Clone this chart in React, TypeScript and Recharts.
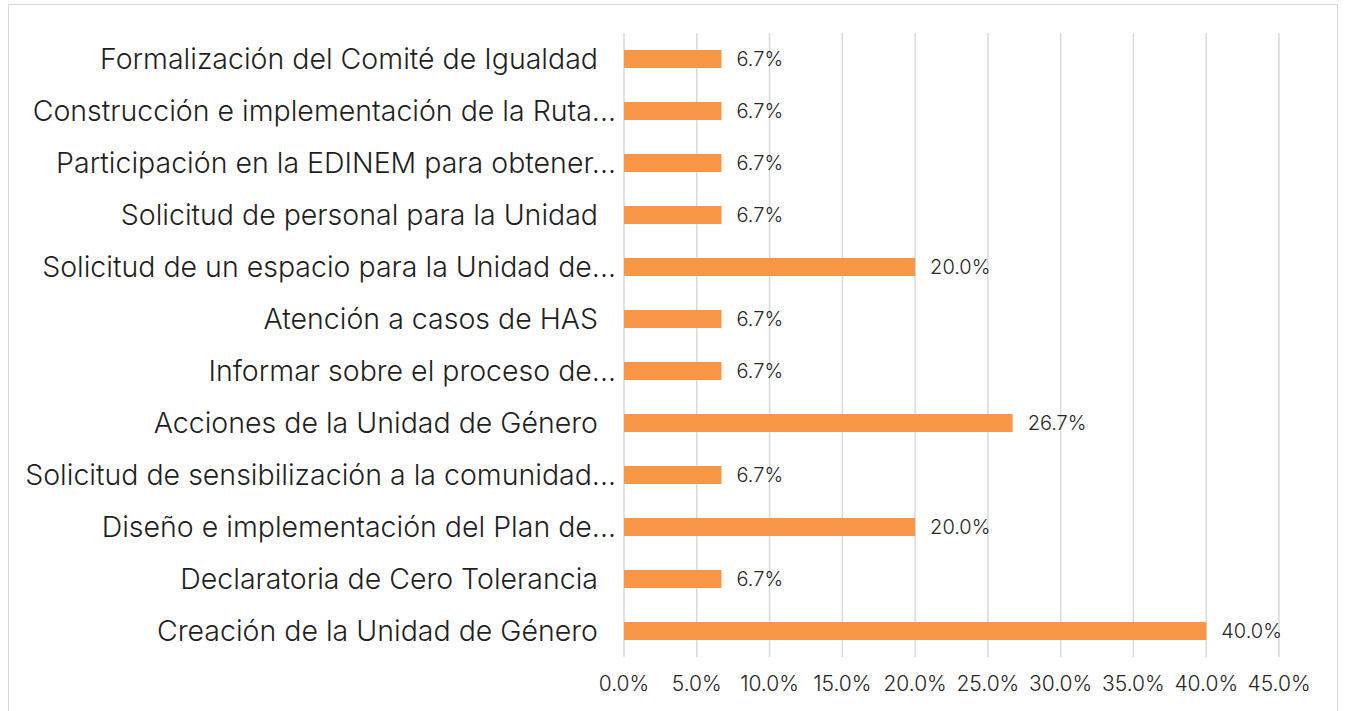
import { BarChart, Bar, XAxis, YAxis, CartesianGrid, LabelList } from "recharts"

const categories = [
  "Formalización del Comité de Igualdad",
  "Construcción e implementación de la Ruta...",
  "Participación en la EDINEM para obtener...",
  "Solicitud de personal para la Unidad",
  "Solicitud de un espacio para la Unidad de...",
  "Atención a casos de HAS",
  "Informar sobre el proceso de...",
  "Acciones de la Unidad de Género",
  "Solicitud de sensibilización a la comunidad...",
  "Diseño e implementación del Plan de...",
  "Declaratoria de Cero Tolerancia",
  "Creación de la Unidad de Género",
]

const percentages = [6.7, 6.7, 6.7, 6.7, 20.0, 6.7, 6.7, 26.7, 6.7, 20.0, 6.7, 40.0]

const xTicks = [0, 5, 10, 15, 20, 25, 30, 35, 40, 45]

const data = categories.map((name, i) => ({ name, value: percentages[i] }))

const FONT = "Inter, 'Open Sans', sans-serif"

function CategoryTick({ x, y, payload }: { x?: number; y?: number; payload?: { value: string } }) {
  const label = payload?.value ?? ""
  // Excel leaves a bit more room before the axis for labels it did not truncate
  const shift = label.endsWith("...") ? 0 : -18
  return (
    <text
      x={(x ?? 0) + shift}
      y={y}
      dy="0.35em"
      textAnchor="end"
      fontSize={28.5}
      fontFamily={FONT}
      fontWeight={300}
      fill="#1f1f1f"
    >
      {label}
    </text>
  )
}

export default function App() {
  return (
    <div style={{ position: "absolute", left: 0, top: 0, width: 1347, height: 711, background: "#fff" }}>
      <div
        style={{
          position: "absolute",
          left: 8,
          top: 4,
          width: 1330,
          height: 720,
          border: "1.5px solid #d9d9d9",
          boxSizing: "border-box",
        }}
      />
      <div style={{ position: "absolute", left: 0, top: 0 }}>
        <BarChart
          width={1347}
          height={711}
          data={data}
          layout="vertical"
          margin={{ top: 33, right: 68, bottom: 0, left: 0 }}
          barCategoryGap={17}
        >
          <CartesianGrid horizontal={false} stroke="#d9d9d9" strokeWidth={1.5} />
          <XAxis
            type="number"
            domain={[0, 45]}
            ticks={xTicks}
            interval={0}
            height={54}
            axisLine={false}
            tickLine={false}
            tickMargin={13}
            tickFormatter={(v: number) => `${v.toFixed(1)}%`}
            tick={{ fontSize: 21, fontFamily: FONT, fontWeight: 300, fill: "#262626" }}
          />
          <YAxis
            type="category"
            dataKey="name"
            width={624}
            axisLine={false}
            tickLine={false}
            tickSize={0}
            tickMargin={8}
            interval={0}
            tick={<CategoryTick />}
          />
          <Bar dataKey="value" fill="#F79646" barSize={18} isAnimationActive={false}>
            <LabelList
              dataKey="value"
              position="right"
              offset={15}
              formatter={(v: number) => `${v.toFixed(1)}%`}
              style={{ fontSize: 20, fontFamily: FONT, fontWeight: 300, fill: "#262626" }}
            />
          </Bar>
        </BarChart>
      </div>
    </div>
  )
}
